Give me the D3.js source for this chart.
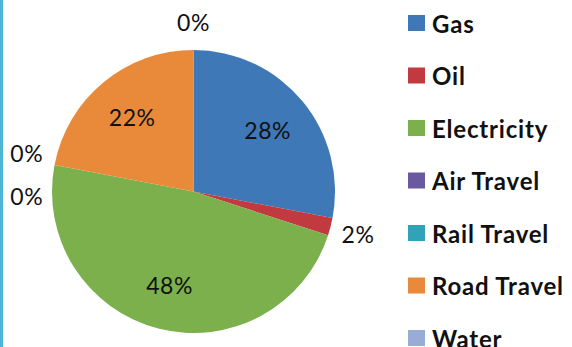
<!DOCTYPE html>
<html>
<head>
<meta charset="utf-8">
<script src="https://cdn.jsdelivr.net/npm/d3@7"></script>
<style>
    body { margin: 0; background: #ffffff; }
    svg { display: block; }
    .label { font-family: Lato, "Open Sans", sans-serif; font-size: 23px; letter-spacing: 0.5px; fill: #111; }
    .legend text { font-family: Lato, "Open Sans", sans-serif; font-size: 24px; font-weight: bold; letter-spacing: 0.8px; fill: #111; }
</style>
</head>
<body>
<script>
// Energy use by source, in percent
var categories = ["Gas", "Oil", "Electricity", "Air Travel", "Rail Travel", "Road Travel", "Water"];
var shares = [28, 2, 48, 0, 0, 22, 0];
var colours = ["#3e78b6", "#c03a40", "#7bb04c", "#6a58a0", "#30a3b9", "#e98a3b", "#98acd6"];

window.onload = function() {

    var svgWidth = 572;
    var svgHeight = 347;

    var centre = { x: 193.5, y: 191.5 };
    var radius = 141.5;

    var svg = d3.select("body").append("svg")
        .attr("width", svgWidth)
        .attr("height", svgHeight);

    // thin frame edge on the left
    svg.append("rect")
        .attr("x", 0)
        .attr("y", 0)
        .attr("width", 3)
        .attr("height", svgHeight)
        .attr("fill", "#4db6d6");

    var data = categories.map(function(name, i) {
        return { name: name, value: shares[i], colour: colours[i] };
    });

    var pie = d3.pie()
        .sort(null)
        .value(function(d) { return d.value; });

    var arcs = pie(data);

    var arc = d3.arc()
        .innerRadius(0)
        .outerRadius(radius);

    var innerLabelArc = d3.arc()
        .innerRadius(radius * 0.68)
        .outerRadius(radius * 0.68);

    var outerLabelArc = d3.arc()
        .innerRadius(radius * 1.2)
        .outerRadius(radius * 1.2);

    var chart = svg.append("g")
        .attr("transform", `translate(${centre.x}, ${centre.y})`);

    chart.selectAll(".slice")
        .data(arcs)
        .enter()
        .append("path")
        .attr("class", "slice")
        .attr("d", arc)
        .attr("fill", function(d) { return d.data.colour; });

    // small slices get their label outside the pie, stacked when they collide
    var placed = [];
    arcs.forEach(function(d) {
        var outside = (d.endAngle - d.startAngle) < 0.2;
        var pos = outside ? outerLabelArc.centroid(d) : innerLabelArc.centroid(d);
        if (outside) {
            placed.forEach(function(p) {
                if (Math.abs(p[0] - pos[0]) < 30 && Math.abs(p[1] - pos[1]) < 30) {
                    p.node.attr("y", p[1] - 7);
                    pos = [pos[0], p[1] + 36];
                }
            });
        }
        var label = chart.append("text")
            .attr("class", "label")
            .attr("x", pos[0])
            .attr("y", pos[1])
            .attr("text-anchor", "middle")
            .attr("dominant-baseline", "central")
            .text(d.data.value + "%");
        if (outside) {
            pos.node = label;
            placed.push(pos);
        }
    });

    // legend
    var legend = svg.append("g")
        .attr("class", "legend")
        .attr("transform", "translate(408, 23)");

    var legendY = d3.scalePoint()
        .domain(categories)
        .range([0, 315]);

    var items = legend.selectAll(".item")
        .data(data)
        .enter()
        .append("g")
        .attr("class", "item")
        .attr("transform", function(d) { return `translate(0, ${legendY(d.name)})`; });

    items.append("rect")
        .attr("x", 0)
        .attr("y", -8)
        .attr("width", 17)
        .attr("height", 16)
        .attr("fill", function(d) { return d.colour; });

    items.append("text")
        .attr("x", 24)
        .attr("y", 0)
        .attr("dominant-baseline", "central")
        .text(function(d) { return d.name; });
};
</script>
</body>
</html>
